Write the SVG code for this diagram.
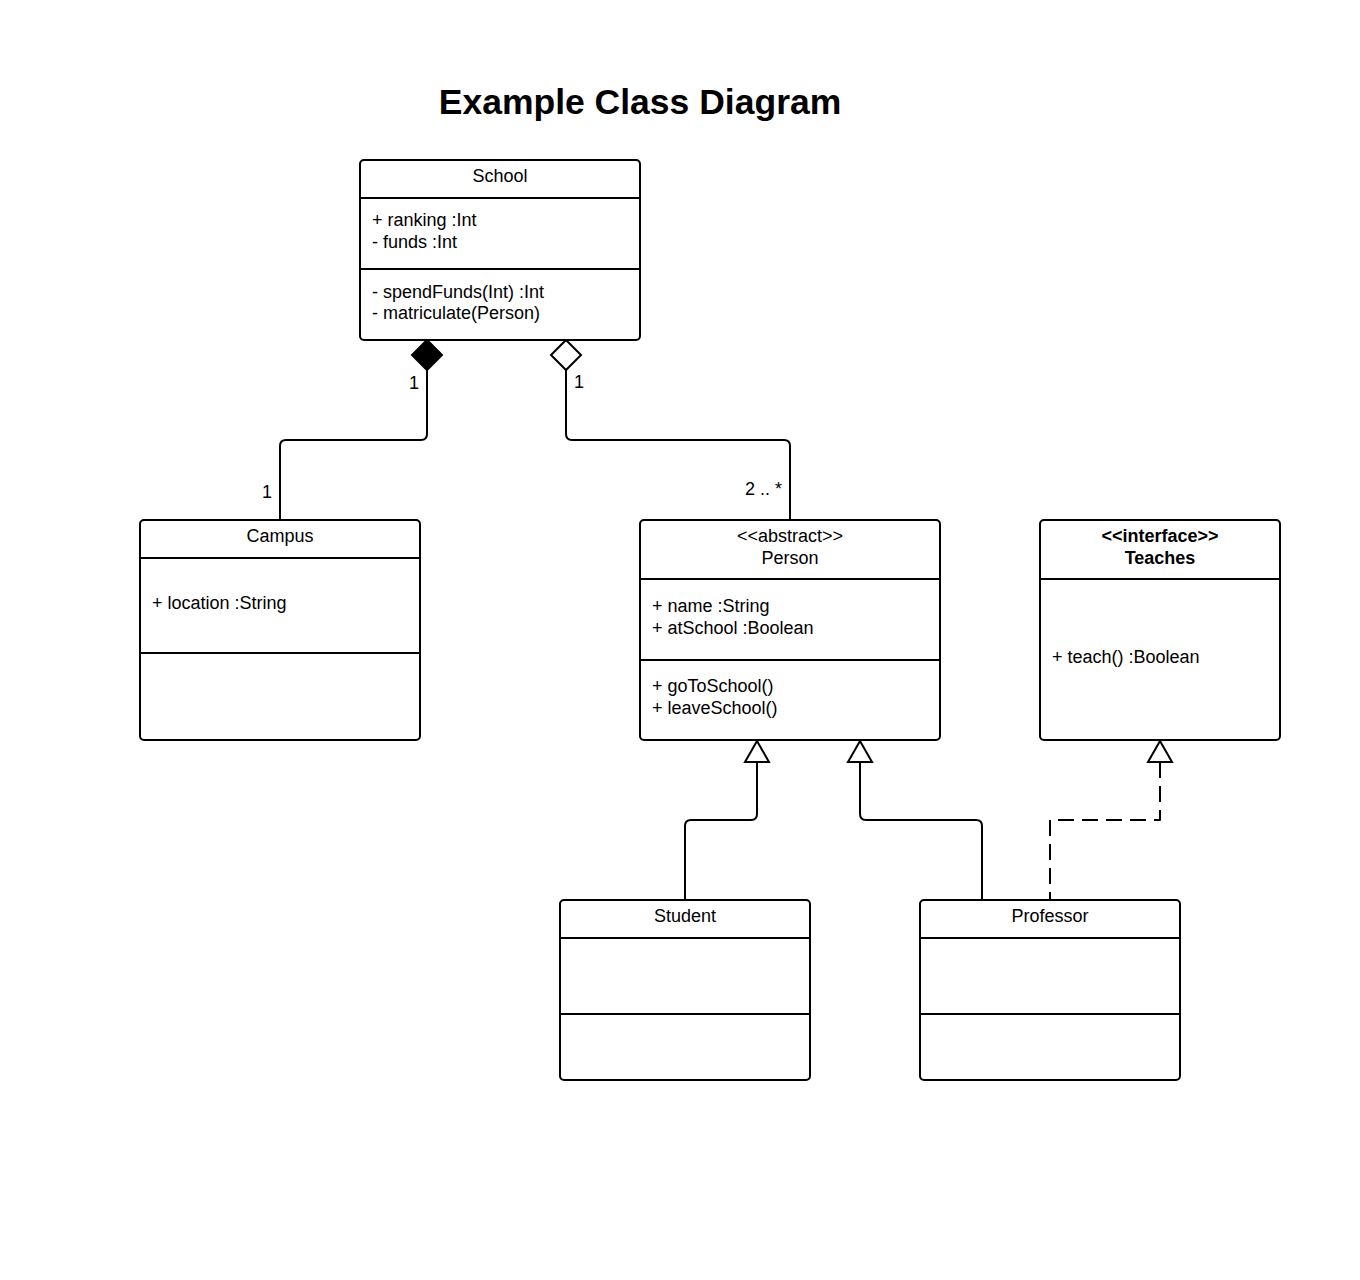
<svg xmlns="http://www.w3.org/2000/svg" width="1360" height="1280" viewBox="0 0 1360 1280">
<style>
text{font-family:"Liberation Sans",Arial,sans-serif;font-size:18px;fill:#000}
.t{font-size:35.5px;font-weight:bold}
.c{text-anchor:middle}
.b{font-weight:bold}
.box{fill:#fff;stroke:#000;stroke-width:2}
.div{stroke:#000;stroke-width:2}
.ln{fill:none;stroke:#000;stroke-width:2;stroke-linejoin:round}
.dash{stroke-dasharray:16 8}
.tri{fill:#fff;stroke:#000;stroke-width:2}
</style>
<rect width="1360" height="1280" fill="#fff"/>
<text class="t c" x="640" y="114">Example Class Diagram</text>
<g id="connectors">
<path class="ln" d="M427 370 V434 Q427 440 421 440 H286 Q280 440 280 446 V520"/>
<path d="M427 340 L442 355 L427 370 L412 355 Z" fill="#000" stroke="#000" stroke-width="2"/>
<text x="409" y="389">1</text>
<text x="262" y="498">1</text>
<path class="ln" d="M566 370 V434 Q566 440 572 440 H784 Q790 440 790 446 V520"/>
<path d="M566 340 L581 355 L566 370 L551 355 Z" fill="#fff" stroke="#000" stroke-width="2"/>
<text x="574" y="388">1</text>
<text x="745" y="495">2 .. *</text>
<path class="ln" d="M757 762 V814 Q757 820 751 820 H691 Q685 820 685 826 V900"/>
<path class="tri" d="M757 741 L769 762 L745 762 Z"/>
<path class="ln" d="M860 762 V814 Q860 820 866 820 H976 Q982 820 982 826 V900"/>
<path class="tri" d="M860 741 L872 762 L848 762 Z"/>
<path class="ln dash" d="M1160 762 V820 H1050 V900"/>
<path class="tri" d="M1160 741 L1172 762 L1148 762 Z"/>
</g>
<g id="school">
<rect class="box" x="360" y="160" width="280" height="180" rx="4"/>
<line class="div" x1="360" y1="198" x2="640" y2="198"/>
<line class="div" x1="360" y1="269" x2="640" y2="269"/>
<text class="c" x="500" y="182">School</text>
<text x="372" y="226">+ ranking :Int</text>
<text x="372" y="248">- funds :Int</text>
<text x="372" y="298">- spendFunds(Int) :Int</text>
<text x="372" y="319">- matriculate(Person)</text>
</g>
<g id="campus">
<rect class="box" x="140" y="520" width="280" height="220" rx="4"/>
<line class="div" x1="140" y1="558" x2="420" y2="558"/>
<line class="div" x1="140" y1="653" x2="420" y2="653"/>
<text class="c" x="280" y="542">Campus</text>
<text x="152" y="609">+ location :String</text>
</g>
<g id="person">
<rect class="box" x="640" y="520" width="300" height="220" rx="4"/>
<line class="div" x1="640" y1="579" x2="940" y2="579"/>
<line class="div" x1="640" y1="660" x2="940" y2="660"/>
<text class="c" x="790" y="542">&lt;&lt;abstract&gt;&gt;</text>
<text class="c" x="790" y="564">Person</text>
<text x="652" y="612">+ name :String</text>
<text x="652" y="634">+ atSchool :Boolean</text>
<text x="652" y="692">+ goToSchool()</text>
<text x="652" y="714">+ leaveSchool()</text>
</g>
<g id="teaches">
<rect class="box" x="1040" y="520" width="240" height="220" rx="4"/>
<line class="div" x1="1040" y1="579" x2="1280" y2="579"/>
<text class="c b" x="1160" y="542">&lt;&lt;interface&gt;&gt;</text>
<text class="c b" x="1160" y="564">Teaches</text>
<text x="1052" y="663">+ teach() :Boolean</text>
</g>
<g id="student">
<rect class="box" x="560" y="900" width="250" height="180" rx="4"/>
<line class="div" x1="560" y1="938" x2="810" y2="938"/>
<line class="div" x1="560" y1="1014" x2="810" y2="1014"/>
<text class="c" x="685" y="922">Student</text>
</g>
<g id="professor">
<rect class="box" x="920" y="900" width="260" height="180" rx="4"/>
<line class="div" x1="920" y1="938" x2="1180" y2="938"/>
<line class="div" x1="920" y1="1014" x2="1180" y2="1014"/>
<text class="c" x="1050" y="922">Professor</text>
</g>
</svg>
